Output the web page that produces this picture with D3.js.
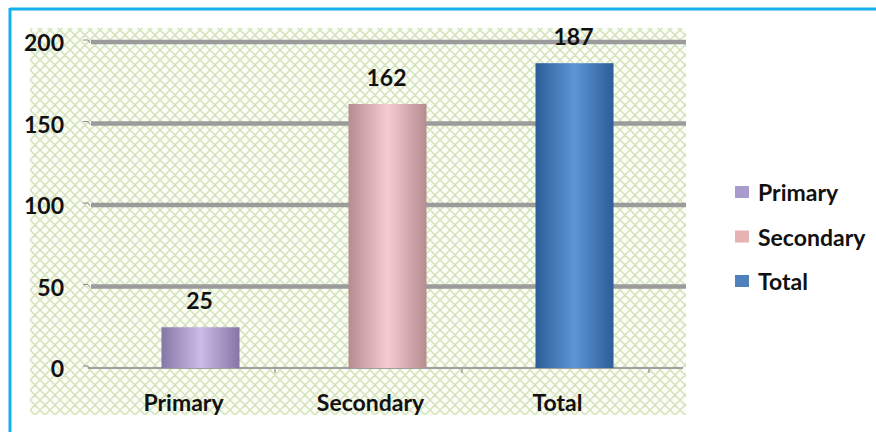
<!DOCTYPE html>
<html>
<head>
<meta charset="utf-8">
<script src="https://cdn.jsdelivr.net/npm/d3@7"></script>
<style>
  body { margin: 0; background: #fff; }
  svg { display: block; font-family: Lato, "Open Sans", sans-serif; font-weight: bold; }
</style>
</head>
<body>
<script>
const categories = ['Primary', 'Secondary', 'Total'];
const values = [25, 162, 187];
const yTicks = [0, 50, 100, 150, 200];

const width = 876;
const height = 432;
const margin = { top: 42, right: 227, bottom: 64, left: 88 };
const barDepth = 19;   // excel-ish 3D shift of the bars
const fontSize = 23;
const colors = {
    Primary: ['#8576a6', '#cbbbe6'],
    Secondary: ['#b58c90', '#f7ccd0'],
    Total: ['#2c5d97', '#5d96d6']
};
const legendColors = ['#a99bcb', '#e6b3b3', '#4f81bd'];

const svg = d3.select('body')
    .append('svg')
    .attr('width', width)
    .attr('height', height);

const defs = svg.append('defs');

const pattern = defs.append('pattern')
    .attr('id', 'hatch')
    .attr('patternUnits', 'userSpaceOnUse')
    .attr('width', 10)
    .attr('height', 10);
pattern.append('rect').attr('width', 10).attr('height', 10).attr('fill', '#fbfdf7');
pattern.append('path')
    .attr('d', 'M0,0 L10,10 M10,0 L0,10 M-5,5 L0,10 M5,-5 L15,5 M-5,5 L5,-5 M5,15 L15,5')
    .attr('stroke', '#d4e2bb')
    .attr('stroke-width', 1.5);

categories.forEach(c => {
    const g = defs.append('linearGradient')
        .attr('id', 'grad-' + c)
        .attr('x1', '0%').attr('x2', '100%')
        .attr('y1', '0%').attr('y2', '0%');
    g.append('stop').attr('offset', '0%').attr('stop-color', colors[c][0]);
    g.append('stop').attr('offset', '50%').attr('stop-color', colors[c][1]);
    g.append('stop').attr('offset', '100%').attr('stop-color', colors[c][0]);
});

// frame
svg.append('line')
    .attr('x1', 10).attr('x2', width)
    .attr('y1', 9).attr('y2', 9)
    .attr('stroke', '#13b0ec').attr('stroke-width', 3);
svg.append('line')
    .attr('x1', 10).attr('x2', 10)
    .attr('y1', 8).attr('y2', height)
    .attr('stroke', '#13b0ec').attr('stroke-width', 3);

// hatched plot background
svg.append('rect')
    .attr('x', 30).attr('y', 28)
    .attr('width', 656).attr('height', 387)
    .attr('fill', 'url(#hatch)');

const y = d3.scaleLinear()
    .domain([0, 200])
    .range([height - margin.bottom, margin.top]);

const x = d3.scaleBand()
    .domain(categories)
    .range([margin.left, 649])
    .paddingInner(0)
    .paddingOuter(0);

// gridlines
svg.append('g')
    .selectAll('line')
    .data(yTicks.filter(d => d > 0))
    .join('line')
    .attr('x1', margin.left + 3)
    .attr('x2', 686)
    .attr('y1', d => y(d))
    .attr('y2', d => y(d))
    .attr('stroke', '#9b9b9b')
    .attr('stroke-width', 4.5);

// y axis tick hooks + labels
const yAxis = svg.append('g');
yAxis.selectAll('path')
    .data(yTicks)
    .join('path')
    .attr('d', d => `M${margin.left - 5},${y(d) - 2} L${margin.left},${y(d) - 2} L${margin.left + 2},${y(d) + 1}`)
    .attr('fill', 'none')
    .attr('stroke', '#8a8a8a')
    .attr('stroke-width', 1);
yAxis.selectAll('text')
    .data(yTicks)
    .join('text')
    .attr('x', 64)
    .attr('y', d => y(d) + 1)
    .attr('dy', '0.35em')
    .attr('text-anchor', 'end')
    .attr('font-size', fontSize)
    .attr('fill', '#111')
    .text(d => d);

// x axis line and ticks
svg.append('line')
    .attr('x1', margin.left).attr('x2', 683)
    .attr('y1', y(0)).attr('y2', y(0))
    .attr('stroke', '#a0a0a0').attr('stroke-width', 2);
svg.append('g')
    .selectAll('line')
    .data(categories.slice(1).concat(['end']))
    .join('line')
    .attr('x1', d => d === 'end' ? x.range()[1] : x(d))
    .attr('x2', d => d === 'end' ? x.range()[1] : x(d))
    .attr('y1', y(0))
    .attr('y2', y(0) + 5)
    .attr('stroke', '#a0a0a0')
    .attr('stroke-width', 1.5);

svg.append('g')
    .selectAll('text')
    .data(categories)
    .join('text')
    .attr('x', d => x(d) + x.bandwidth() / 2 + 2)
    .attr('y', 411)
    .attr('text-anchor', 'middle')
    .attr('font-size', fontSize)
    .attr('fill', '#111')
    .text(d => d);

// bars
const barW = 78;
const barData = categories.map((c, i) => ({ cat: c, value: values[i] }));

svg.append('g')
    .selectAll('rect')
    .data(barData)
    .join('rect')
    .attr('x', d => x(d.cat) + x.bandwidth() / 2 + barDepth - barW / 2)
    .attr('y', d => y(d.value))
    .attr('width', barW)
    .attr('height', d => y(0) - y(d.value))
    .attr('fill', d => `url(#grad-${d.cat})`);

svg.append('g')
    .selectAll('text')
    .data(barData)
    .join('text')
    .attr('x', d => x(d.cat) + x.bandwidth() / 2 + barDepth - 1)
    .attr('y', d => y(d.value) - 18)
    .attr('text-anchor', 'middle')
    .attr('font-size', fontSize)
    .attr('fill', '#111')
    .text(d => d.value);

// legend
const legend = svg.append('g')
    .attr('transform', 'translate(735,192)');
const items = legend.selectAll('g')
    .data(categories)
    .join('g')
    .attr('transform', (d, i) => `translate(0,${i * 44.5})`);
items.append('rect')
    .attr('x', 0).attr('y', -6)
    .attr('width', 14).attr('height', 12)
    .attr('fill', (d, i) => legendColors[i]);
items.append('text')
    .attr('x', 23)
    .attr('y', 1)
    .attr('dy', '0.35em')
    .attr('font-size', fontSize)
    .attr('fill', '#111')
    .text(d => d);
</script>
</body>
</html>
